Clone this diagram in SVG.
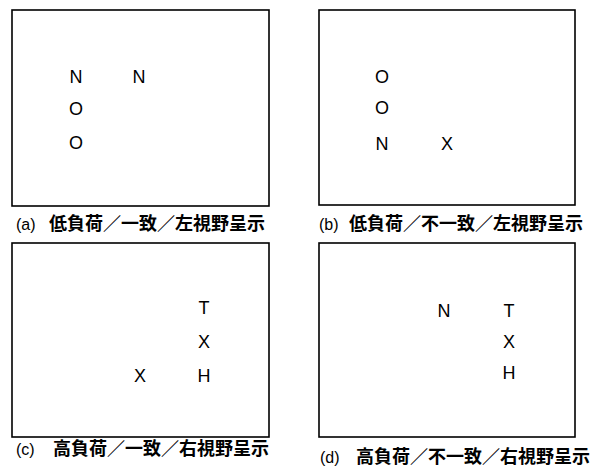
<svg xmlns="http://www.w3.org/2000/svg" width="592" height="468" viewBox="0 0 592 468">
<style>
.box{fill:none;stroke:#000;stroke-width:1.6}
.l{font-family:"Liberation Sans",Arial,sans-serif;font-size:18px;fill:#000;text-anchor:middle}
.cap{font-family:"Noto Sans CJK JP","Noto Sans CJK SC",sans-serif;font-size:18px;font-weight:bold;fill:#000}
.p{font-family:"Liberation Sans",Arial,sans-serif;font-weight:normal;font-size:16px}
</style>
<rect width="592" height="468" fill="#fff"/>
<g id="panel-a">
<rect class="box" x="12" y="10" width="257" height="196"/>
<text class="l" x="76" y="83">N</text>
<text class="l" x="139" y="83">N</text>
<text class="l" x="76" y="115">O</text>
<text class="l" x="76" y="149">O</text>
<text class="cap" x="16" y="230"><tspan class="p">(a)</tspan><tspan x="49">低負荷／一致／左視野呈示</tspan></text>
</g>
<g id="panel-b">
<rect class="box" x="319" y="10" width="256" height="195"/>
<text class="l" x="382" y="83">O</text>
<text class="l" x="382" y="114">O</text>
<text class="l" x="382" y="150">N</text>
<text class="l" x="447" y="150">X</text>
<text class="cap" x="319" y="230"><tspan class="p">(b)</tspan><tspan x="349">低負荷／不一致／左視野呈示</tspan></text>
</g>
<g id="panel-c">
<rect class="box" x="12" y="243" width="257" height="194"/>
<text class="l" x="204" y="314">T</text>
<text class="l" x="204" y="348">X</text>
<text class="l" x="204" y="382">H</text>
<text class="l" x="140" y="382">X</text>
<text class="cap" x="16" y="455"><tspan class="p">(c)</tspan><tspan x="53">高負荷／一致／右視野呈示</tspan></text>
</g>
<g id="panel-d">
<rect class="box" x="319" y="243" width="256" height="194"/>
<text class="l" x="444" y="317">N</text>
<text class="l" x="509" y="317">T</text>
<text class="l" x="509" y="348">X</text>
<text class="l" x="509" y="379">H</text>
<text class="cap" x="320" y="463"><tspan class="p">(d)</tspan><tspan x="356">高負荷／不一致／右視野呈示</tspan></text>
</g>
<g id="connectors"></g>
</svg>
